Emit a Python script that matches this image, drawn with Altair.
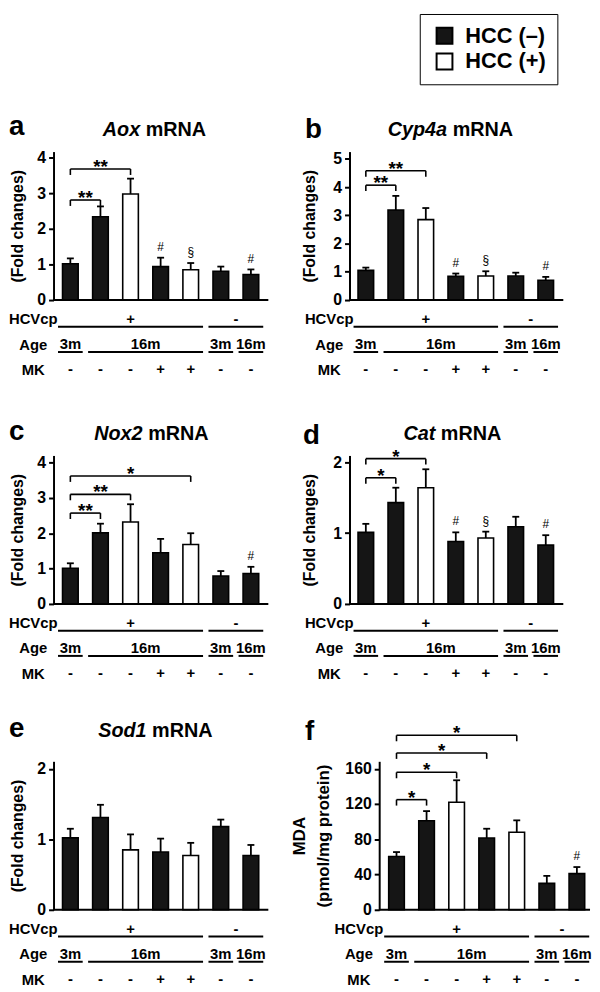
import altair as alt
import pandas as pd

FONT = "Liberation Sans"

# ---------------- shared categories ----------------
groups = [1, 2, 3, 4, 5, 6, 7]
hcc_status = ["HCC (–)", "HCC (–)", "HCC (+)", "HCC (–)", "HCC (+)", "HCC (–)", "HCC (–)"]
legend_labels = ["HCC (–)", "HCC (+)"]
legend_colors = ["#151515", "#ffffff"]

# ---------------- table under each panel ----------------
row_labels = ["HCVcp", "Age", "MK"]
hcv_signs = ["+", "-"]
hcv_start = [1, 6]
hcv_end = [5, 7]
age_labels = ["3m", "16m", "3m", "16m"]
age_start = [1, 2, 6, 7]
age_end = [1, 5, 6, 7]
mk_signs = ["-", "-", "-", "+", "+", "-", "-"]

# ---------------- a: Aox ----------------
aox_mean = [1.02, 2.34, 2.98, 0.94, 0.85, 0.81, 0.72]
aox_sem = [0.15, 0.29, 0.43, 0.25, 0.19, 0.13, 0.14]
aox_ticks = [0, 1, 2, 3, 4]
aox_brk_i = [1, 1]
aox_brk_j = [2, 3]
aox_brk_y = [2.81, 3.68]
aox_brk_lab = ["**", "**"]
aox_note_grp = [4, 5, 7]
aox_note_sym = ["#", "§", "#"]

# ---------------- b: Cyp4a ----------------
cyp_mean = [1.05, 3.19, 2.85, 0.84, 0.85, 0.85, 0.70]
cyp_sem = [0.10, 0.50, 0.41, 0.10, 0.17, 0.12, 0.12]
cyp_ticks = [0, 1, 2, 3, 4, 5]
cyp_brk_i = [1, 1]
cyp_brk_j = [2, 3]
cyp_brk_y = [4.07, 4.58]
cyp_brk_lab = ["**", "**"]
cyp_note_grp = [4, 5, 7]
cyp_note_sym = ["#", "§", "#"]

# ---------------- c: Nox2 ----------------
nox_mean = [1.01, 2.01, 2.32, 1.45, 1.68, 0.79, 0.86]
nox_sem = [0.14, 0.26, 0.50, 0.39, 0.32, 0.14, 0.19]
nox_ticks = [0, 1, 2, 3, 4]
nox_brk_i = [1, 1, 1]
nox_brk_j = [2, 3, 5]
nox_brk_y = [2.57, 3.10, 3.62]
nox_brk_lab = ["**", "**", "*"]
nox_note_grp = [7]
nox_note_sym = ["#"]

# ---------------- d: Cat ----------------
cat_mean = [1.01, 1.43, 1.64, 0.88, 0.93, 1.09, 0.83]
cat_sem = [0.12, 0.21, 0.26, 0.13, 0.09, 0.14, 0.14]
cat_ticks = [0, 1, 2]
cat_brk_i = [1, 1]
cat_brk_j = [2, 3]
cat_brk_y = [1.78, 2.05]
cat_brk_lab = ["*", "*"]
cat_note_grp = [4, 5, 7]
cat_note_sym = ["#", "§", "#"]

# ---------------- e: Sod1 ----------------
sod_mean = [1.02, 1.31, 0.85, 0.82, 0.77, 1.18, 0.77]
sod_sem = [0.13, 0.18, 0.22, 0.19, 0.18, 0.10, 0.15]
sod_ticks = [0, 1, 2]

# ---------------- f: MDA ----------------
mda_mean = [60.5, 101, 122, 81.5, 88, 30, 41]
mda_sem = [5, 11, 25, 10.5, 13.5, 8.5, 7.5]
mda_ticks = [0, 40, 80, 120, 160]
mda_brk_i = [1, 1, 1, 1]
mda_brk_j = [2, 3, 4, 5]
mda_brk_y = [125, 156, 178, 198]
mda_brk_lab = ["*", "*", "*", "*"]
mda_note_grp = [7]
mda_note_sym = ["#"]

PLOT_H = 150

panels = {
    "a": dict(mean=aox_mean, sem=aox_sem, ticks=aox_ticks, ymax=4.17,
              brk=(aox_brk_i, aox_brk_j, aox_brk_y, aox_brk_lab),
              notes=(aox_note_grp, aox_note_sym),
              xdom=[0.441, 7.579], base=[0.441, 7.579], width=217, ax_off=0,
              ytitle="(Fold changes)", titleX=-36, gene="Aox", split=87.5,
              title_dy=-16, lx=-45, ly=-17, legend=False),
    "b": dict(mean=cyp_mean, sem=cyp_sem, ticks=cyp_ticks, ymax=5.26,
              brk=(cyp_brk_i, cyp_brk_j, cyp_brk_y, cyp_brk_lab),
              notes=(cyp_note_grp, cyp_note_sym),
              xdom=[0.455, 7.585], base=[0.455, 7.585], width=216, ax_off=0,
              ytitle="(Fold changes)", titleX=-40, gene="Cyp4a", split=98.6,
              title_dy=-16, lx=-45, ly=-14, legend=True),
    "c": dict(mean=nox_mean, sem=nox_sem, ticks=nox_ticks, ymax=4.2,
              brk=(nox_brk_i, nox_brk_j, nox_brk_y, nox_brk_lab),
              notes=(nox_note_grp, nox_note_sym),
              xdom=[0.441, 7.579], base=[0.441, 7.579], width=217, ax_off=0,
              ytitle="(Fold changes)", titleX=-36, gene="Nox2", split=90,
              title_dy=-16, lx=-45, ly=-16, legend=False),
    "d": dict(mean=cat_mean, sem=cat_sem, ticks=cat_ticks, ymax=2.095,
              brk=(cat_brk_i, cat_brk_j, cat_brk_y, cat_brk_lab),
              notes=(cat_note_grp, cat_note_sym),
              xdom=[0.455, 7.585], base=[0.455, 7.585], width=216, ax_off=0,
              ytitle="(Fold changes)", titleX=-40, gene="Cat", split=86.7,
              title_dy=-16, lx=-47, ly=-12, legend=False),
    "e": dict(mean=sod_mean, sem=sod_sem, ticks=sod_ticks, ymax=2.107,
              brk=None, notes=None,
              xdom=[0.441, 7.579], base=[0.441, 7.579], width=217, ax_off=0,
              ytitle="(Fold changes)", titleX=-36, gene="Sod1", split=94,
              title_dy=-25, lx=-45, ly=-25, legend=False),
    "f": dict(mean=mda_mean, sem=mda_sem, ticks=mda_ticks, ymax=168.5,
              brk=(mda_brk_i, mda_brk_j, mda_brk_y, mda_brk_lab),
              notes=(mda_note_grp, mda_note_sym),
              xdom=[-0.564, 7.437], base=[0.424, 7.437], width=243, ax_off=-30,
              ytitle=["MDA", "(pmol/mg protein)"], titleX=-80, gene=None, split=0,
              title_dy=-25, lx=-45, ly=-22, legend=False),
}


def make_panel(key, p):
    df = pd.DataFrame({"grp": groups, "hcc": hcc_status, "mean": p["mean"], "sem": p["sem"]})
    df["top"] = df["mean"] + df["sem"]
    xs = alt.Scale(domain=p["xdom"], nice=False, zero=False)
    ys = alt.Scale(domain=[0, p["ymax"]], nice=False, zero=False)

    multi = isinstance(p["ytitle"], list)
    yaxis = alt.Axis(
        values=p["ticks"], labelExpr="'' + datum.value", title=p["ytitle"],
        titleX=p["titleX"], titleY=PLOT_H / 2,
        titleAngle=-90, titleAlign="center", titleBaseline="middle",
        titleFont=FONT, titleFontSize=17 if multi else 16, titleFontWeight="bold",
        titleColor="black", titleLineHeight=24, offset=p["ax_off"],
        labelFont=FONT, labelFontSize=16, labelFontWeight="bold", labelColor="black",
        labelPadding=3, tickSize=5, tickWidth=2, tickColor="black",
        domainColor="black", domainWidth=2, grid=False, labelOverlap=False,
    )

    def X(f):
        return alt.X(f, type="quantitative", scale=xs, axis=None)

    def Y(f):
        return alt.Y(f, type="quantitative", scale=ys, axis=yaxis, title=p["ytitle"])

    if p["legend"]:
        leg = alt.Legend(
            orient="none", legendX=71, legendY=-139, title=None,
            strokeColor="black", padding=11, symbolType="square", symbolSize=256,
            symbolStrokeColor="black", symbolStrokeWidth=2, symbolOffset=3,
            labelFont=FONT, labelFontSize=22, labelFontWeight="bold", labelColor="black",
            labelOffset=10, rowPadding=2, direction="vertical",
        )
    else:
        leg = None

    bars = alt.Chart(df).transform_calculate(
        x1="datum.grp - 0.26", x2="datum.grp + 0.26"
    ).mark_bar(stroke="black", strokeWidth=1.6).encode(
        x=X("x1"), x2="x2:Q",
        y=Y("mean"),
        y2=alt.datum(0),
        fill=alt.Fill("hcc:N", scale=alt.Scale(domain=legend_labels, range=legend_colors), legend=leg),
    )
    whisk = alt.Chart(df).mark_rule(color="black", strokeWidth=1.8).encode(
        x=X("grp"), y=Y("mean"), y2="top:Q")
    caps = alt.Chart(df).mark_rule(color="black", strokeWidth=1.8, xOffset=-3.5, x2Offset=3.5).encode(
        x=X("grp"), x2="grp:Q", y=Y("top"))
    base_df = pd.DataFrame({"bx0": [p["base"][0]], "bx1": [p["base"][1]], "by": [0]})
    base = alt.Chart(base_df).mark_rule(color="black", strokeWidth=2).encode(
        x=X("bx0"), x2="bx1:Q", y=Y("by"))
    layers = [bars, whisk, caps, base]

    if p["brk"]:
        bi, bj, by, bl = p["brk"]
        bdf = pd.DataFrame({"i": bi, "j": bj, "yb": by, "lab": bl})
        hline = alt.Chart(bdf).mark_rule(color="black", strokeWidth=1.6).encode(
            x=X("i"), x2="j:Q", y=Y("yb"))
        drops = alt.Chart(bdf).transform_fold(["i", "j"], as_=["end", "xe"]).mark_rule(
            color="black", strokeWidth=1.6, y2Offset=6).encode(
            x=X("xe"), y=Y("yb"), y2="yb:Q")
        stars = alt.Chart(bdf).transform_calculate(xm="(datum.i + datum.j) / 2").mark_text(
            font=FONT, fontSize=19, fontWeight="bold", baseline="alphabetic", dy=4, color="black").encode(
            x=X("xm"), y=Y("yb"), text="lab:N")
        layers += [hline, drops, stars]

    if p["notes"]:
        ng, ns = p["notes"]
        ndf = pd.DataFrame({"grp": ng, "sym": ns})
        ndf["ny"] = [p["mean"][g - 1] + p["sem"][g - 1] for g in ng]
        notes = alt.Chart(ndf).mark_text(font=FONT, fontSize=12, baseline="middle", dy=-11,
                                         color="black").encode(
            x=X("grp"), y=Y("ny"), text="sym:N")
        layers.append(notes)

    letter = alt.Chart(pd.DataFrame({"t": [key]})).mark_text(
        font=FONT, fontSize=28, fontWeight="bold", align="left", baseline="alphabetic",
        color="black").encode(text="t:N", x=alt.value(p["lx"]), y=alt.value(p["ly"]))
    layers.append(letter)
    if p["gene"]:
        gene = alt.Chart(pd.DataFrame({"t": [p["gene"]]})).mark_text(
            font=FONT, fontSize=20, fontWeight="bold", fontStyle="italic", align="right",
            baseline="alphabetic", color="black").encode(
            text="t:N", x=alt.value(p["split"]), y=alt.value(p["title_dy"]))
        mrna = alt.Chart(pd.DataFrame({"t": ["mRNA"]})).mark_text(
            font=FONT, fontSize=20, fontWeight="bold", align="left",
            baseline="alphabetic", color="black").encode(
            text="t:N", x=alt.value(p["split"] + 5.6), y=alt.value(p["title_dy"]))
        layers += [gene, mrna]

    return alt.layer(*layers).properties(width=p["width"], height=PLOT_H)


def make_table(p, height):
    xs = alt.Scale(domain=p["xdom"], nice=False, zero=False)
    ys = alt.Scale(type="point", domain=row_labels, range=[19, 70], padding=0)
    tax = alt.Axis(title=None, domain=False, ticks=False, tickSize=0, labelAlign="center",
                   labelBaseline="middle", labelPadding=21, labelFont=FONT, labelFontSize=15,
                   labelFontWeight="bold", labelColor="black", offset=p["ax_off"])

    def X(f):
        return alt.X(f, type="quantitative", scale=xs, axis=None)

    def Yt():
        return alt.Y("row:N", scale=ys, axis=tax, title=None)

    txt = dict(font=FONT, fontSize=15, fontWeight="bold", baseline="middle", color="black")

    hcv_df = pd.DataFrame({"row": "HCVcp", "lab": hcv_signs, "s": hcv_start, "e": hcv_end})
    age_df = pd.DataFrame({"row": "Age", "lab": age_labels, "s": age_start, "e": age_end})
    mk_df = pd.DataFrame({"row": "MK", "lab": mk_signs, "grp": groups})

    def group_layers(d):
        t = alt.Chart(d).transform_calculate(xm="(datum.s + datum.e) / 2").mark_text(**txt).encode(
            x=X("xm"), y=Yt(), text="lab:N")
        r = alt.Chart(d).transform_calculate(xa="datum.s - 0.41", xb="datum.e + 0.41").mark_rule(
            color="black", strokeWidth=2, yOffset=8).encode(
            x=X("xa"), x2="xb:Q", y=Yt())
        return [t, r]

    mk = alt.Chart(mk_df).mark_text(**txt).encode(x=X("grp"), y=Yt(), text="lab:N")
    return alt.layer(*(group_layers(hcv_df) + group_layers(age_df) + [mk])).properties(
        width=p["width"], height=height)


cells = []
for (l, r), th in [(("a", "b"), 157), (("c", "d"), 159), (("e", "f"), 72)]:
    cells += [make_panel(l, panels[l]), make_panel(r, panels[r])]
    cells += [make_table(panels[l], th), make_table(panels[r], th)]

chart = alt.concat(
    *cells, columns=2, spacing={"row": 0, "column": 82}, bounds="flush", align="each"
).resolve_scale(fill="independent").resolve_legend(fill="independent").properties(
    padding=0
).configure_view(stroke=None)

chart.save("out.html", embed_options={"renderer": "svg", "actions": False})
